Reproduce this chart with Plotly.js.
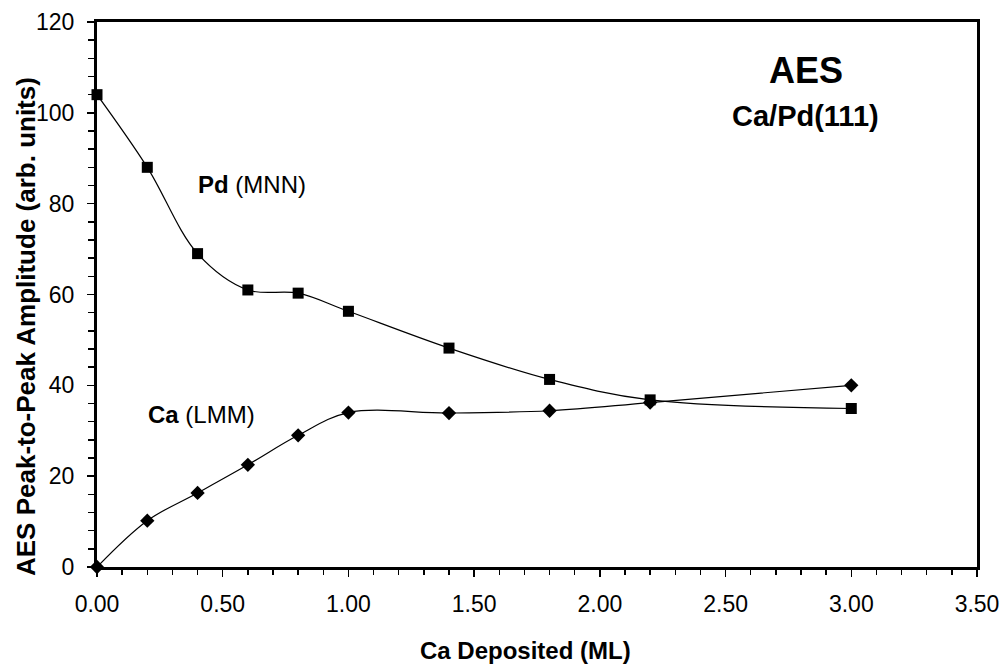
<!DOCTYPE html>
<html>
<head>
<meta charset="utf-8">
<script src="https://cdn.plot.ly/plotly-3.0.1.min.js"></script>
<style>html,body{margin:0;padding:0;background:#fff;}#chart{width:1002px;height:664px;}</style>
</head>
<body>
<div id="chart"></div>
<script>
var caDeposited = [0, 0.2, 0.4, 0.6, 0.8, 1.0, 1.4, 1.8, 2.2, 3.0];
var pdMNN = [104, 88, 69, 61, 60.3, 56.3, 48.2, 41.3, 36.8, 34.9];
var caLMM = [0, 10.2, 16.3, 22.5, 29, 34, 33.9, 34.4, 36.2, 40];
var xTickVals = [0, 0.5, 1.0, 1.5, 2.0, 2.5, 3.0, 3.5];
var xTickText = ["0.00", "0.50", "1.00", "1.50", "2.00", "2.50", "3.00", "3.50"];
var yTickVals = [0, 20, 40, 60, 80, 100, 120];

var L = 97, R = 977, T = 22, B = 567;
function px(x) { return (x - L) / (R - L); }
function py(y) { return (B - y) / (B - T); }

var font = "Liberation Sans, Arial, sans-serif";

var traces = [
  {
    x: caDeposited, y: pdMNN, type: 'scatter', mode: 'lines+markers',
    line: {color: '#000', width: 1.2, shape: 'spline', smoothing: 1},
    marker: {symbol: 'square', size: 11, color: '#000'},
    cliponaxis: false, showlegend: false
  },
  {
    x: caDeposited, y: caLMM, type: 'scatter', mode: 'lines+markers',
    line: {color: '#000', width: 1.2, shape: 'spline', smoothing: 1},
    marker: {symbol: 'diamond', size: 11, color: '#000'},
    cliponaxis: false, showlegend: false
  }
];

var layout = {
  width: 1002, height: 664,
  margin: {l: L, r: 1002 - R, t: T, b: 664 - B},
  paper_bgcolor: '#fff', plot_bgcolor: '#fff',
  font: {family: font, color: '#000'},
  xaxis: {
    range: [0, 3.5], showgrid: false, zeroline: false,
    showline: true, linewidth: 3, linecolor: '#000', mirror: true,
    tickmode: 'array', tickvals: xTickVals, ticktext: xTickText,
    ticks: 'outside', ticklen: 7, tickwidth: 1.5, tickcolor: '#000',
    ticklabelstandoff: 7,
    tickfont: {size: 23, family: font, color: '#000'},
    minor: {dtick: 0.1, ticks: 'outside', ticklen: 5, tickwidth: 1.5, tickcolor: '#000', showgrid: false}
  },
  yaxis: {
    range: [0, 120], showgrid: false, zeroline: false,
    showline: true, linewidth: 3, linecolor: '#000', mirror: true,
    tickmode: 'array', tickvals: yTickVals,
    ticks: 'outside', ticklen: 7, tickwidth: 1.5, tickcolor: '#000',
    ticklabelstandoff: 8,
    tickfont: {size: 23, family: font, color: '#000'},
    minor: {dtick: 4, ticks: 'outside', ticklen: 6, tickwidth: 1.5, tickcolor: '#000', showgrid: false}
  },
  annotations: [
    {xref: 'paper', yref: 'paper', x: px(525), y: py(650), xanchor: 'center', yanchor: 'middle',
     text: '<b>Ca Deposited (ML)</b>', showarrow: false, font: {size: 24, family: font, color: '#000'}},
    {xref: 'paper', yref: 'paper', x: px(26), y: py(327), xanchor: 'center', yanchor: 'middle',
     text: '<b>AES Peak-to-Peak Amplitude (arb. units)</b>', textangle: -90, showarrow: false,
     font: {size: 26, family: font, color: '#000'}},
    {xref: 'paper', yref: 'paper', x: px(806), y: py(71), xanchor: 'center', yanchor: 'middle',
     text: '<b>AES</b>', showarrow: false, font: {size: 36, family: font, color: '#000'}},
    {xref: 'paper', yref: 'paper', x: px(805), y: py(116), xanchor: 'center', yanchor: 'middle',
     text: '<b>Ca/Pd(111)</b>', showarrow: false, font: {size: 29, family: font, color: '#000'}},
    {xref: 'paper', yref: 'paper', x: px(196), y: py(184), xanchor: 'left', yanchor: 'middle',
     text: '<b>Pd</b> (MNN)', showarrow: false, font: {size: 24, family: font, color: '#000'}},
    {xref: 'paper', yref: 'paper', x: px(146), y: py(414), xanchor: 'left', yanchor: 'middle',
     text: '<b>Ca</b> (LMM)', showarrow: false, font: {size: 24, family: font, color: '#000'}}
  ]
};

Plotly.newPlot('chart', traces, layout, {displayModeBar: false, staticPlot: true});
</script>
</body>
</html>
